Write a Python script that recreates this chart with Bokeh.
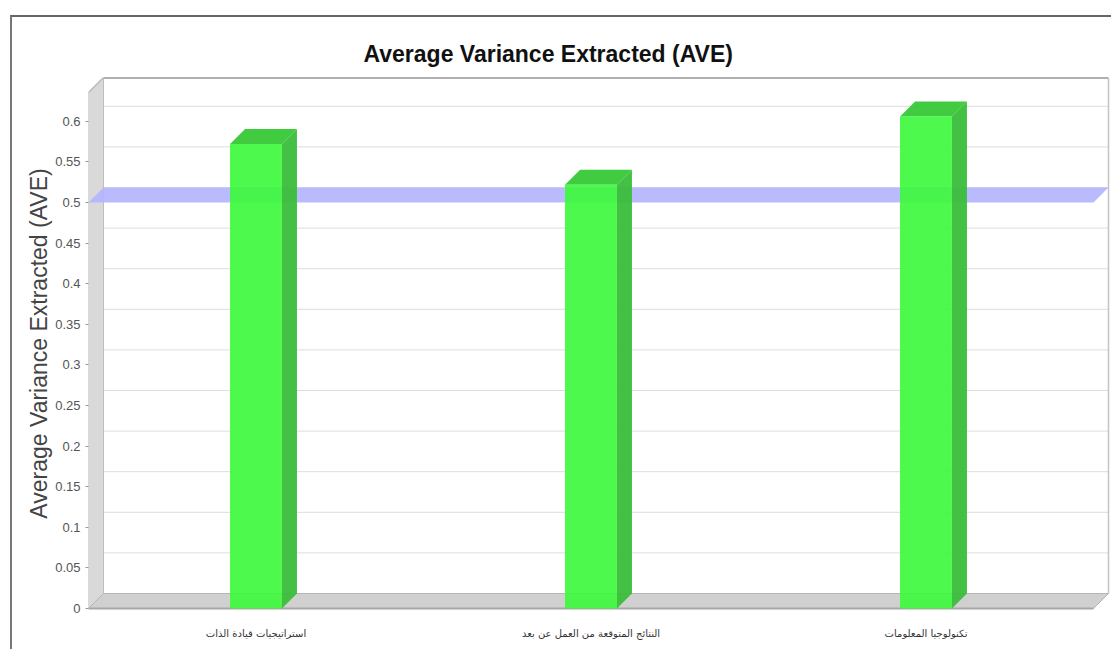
from bokeh.plotting import figure
from bokeh.models import FixedTicker
from bokeh.embed import file_html
from bokeh.resources import INLINE

# ---- data ----
categories = ["استراتيجيات قيادة الذات",
              "النتائج المتوقعة من العمل عن بعد",
              "تكنولوجيا المعلومات"]
ave_values = [0.572, 0.522, 0.606]
threshold = 0.5
y_ticks = [0, 0.05, 0.1, 0.15, 0.2, 0.25, 0.3, 0.35, 0.4, 0.45, 0.5, 0.55, 0.6]
y_tick_labels = ["0", "0.05", "0.1", "0.15", "0.2", "0.25", "0.3", "0.35",
                 "0.4", "0.45", "0.5", "0.55", "0.6"]
title_text = "Average Variance Extracted (AVE)"
y_title = "Average Variance Extracted (AVE)"

# ---- geometry / style ----
n = len(categories)
px_x = 335.0   # px per category unit
px_y = 812.0   # px per value unit
dx = 15 / px_x  # 3D depth offset (x)
dy = 15 / px_y  # 3D depth offset (y)
wall_top = 0.635
bar_w = 0.155

frame_w = 1022
frame_h = 534
x_end = frame_w / px_x
y_start = -2 / px_y
y_end = y_start + frame_h / px_y

p = figure(width=1101, height=634, output_backend="svg", toolbar_location=None,
           x_range=(0, x_end), y_range=(y_start, y_end),
           min_border_left=76, min_border_right=3, min_border_top=59,
           min_border_bottom=41)
p.styles = {"margin-left": "10px", "margin-top": "15px",
            "border-left": "2px solid #777", "border-top": "2px solid #666"}
p.outline_line_color = None
p.xgrid.visible = False
p.ygrid.visible = False
p.background_fill_color = "white"

# title
p.title.text = title_text
p.title.text_font = "Liberation Sans"
p.title.text_font_size = "23px"
p.title.text_font_style = "bold"
p.title.text_color = "#111111"
p.title.align = "left"
p.title.offset = 275
p.title.standoff = 20

# back wall grid lines
grid_y = [t + dy for t in y_ticks[1:]]
p.segment(x0=dx, y0=grid_y, x1=n + dx, y1=grid_y, line_color="#dddddd", line_width=1)
# back wall top edge and right edge
p.segment(x0=[0, dx], y0=[wall_top, wall_top + dy], x1=[dx, n + dx],
          y1=[wall_top + dy, wall_top + dy], line_color="#b0b0b0", line_width=2)
p.segment(x0=n + dx, y0=dy, x1=n + dx, y1=wall_top + dy,
          line_color="#c4c4c4", line_width=1.5)

# left wall
p.patch([0, 0, dx, dx], [0, wall_top, wall_top + dy, dy],
        fill_color="#d9d9d9", line_color="#bdbdbd", line_width=1)
# floor
p.patch([0, n, n + dx, dx], [0, 0, dy, dy],
        fill_color="#d0d0d0", line_color="#b5b5b5", line_width=1)
p.segment(x0=0, y0=0, x1=n, y1=0, line_color="#a8a8a8", line_width=2)

# threshold plane at 0.5
p.patch([0, n, n + dx, dx], [threshold, threshold, threshold + dy, threshold + dy],
        fill_color="#b3b3ff", fill_alpha=0.9, line_color=None)

# bars
centers = [i + 0.5 for i in range(n)]
lefts = [c - bar_w / 2 for c in centers]
rights = [c + bar_w / 2 for c in centers]
side_xs = [[r, r + dx, r + dx, r] for r in rights]
side_ys = [[0, dy, v + dy, v] for v in ave_values]
top_xs = [[l, r, r + dx, l + dx] for l, r in zip(lefts, rights)]
top_ys = [[v, v, v + dy, v + dy] for v in ave_values]
p.patches(side_xs, side_ys, fill_color="#3abd3a", fill_alpha=0.95, line_color=None)
p.patches(top_xs, top_ys, fill_color="#36c836", fill_alpha=0.95, line_color=None)
p.quad(left=lefts, right=rights, bottom=0, top=ave_values,
       fill_color="#3df83d", fill_alpha=0.92, line_color=None)

# y axis
ya = p.yaxis[0]
ya.ticker = FixedTicker(ticks=y_ticks)
ya.major_label_overrides = {t: s for t, s in zip(y_ticks, y_tick_labels)}
ya.axis_line_color = None
ya.major_tick_out = 3
ya.major_tick_in = 0
ya.major_tick_line_color = "#999999"
ya.minor_tick_line_color = None
ya.major_label_standoff = 5
ya.major_label_text_font = "Liberation Sans"
ya.major_label_text_font_size = "13px"
ya.major_label_text_color = "#555555"
ya.axis_label = y_title
ya.axis_label_text_font = "Liberation Sans"
ya.axis_label_text_font_size = "23px"
ya.axis_label_text_font_style = "normal"
ya.axis_label_text_color = "#444444"
ya.axis_label_standoff = 0

# x axis
xa = p.xaxis[0]
xa.ticker = FixedTicker(ticks=centers)
xa.major_label_overrides = {c: s for c, s in zip(centers, categories)}
xa.axis_line_color = None
xa.major_tick_line_color = None
xa.minor_tick_line_color = None
xa.major_label_standoff = 11
xa.major_label_text_font = "DejaVu Sans"
xa.major_label_text_font_size = "10px"
xa.major_label_text_color = "#333333"

open("out.html", "w").write(file_html(p, INLINE))
